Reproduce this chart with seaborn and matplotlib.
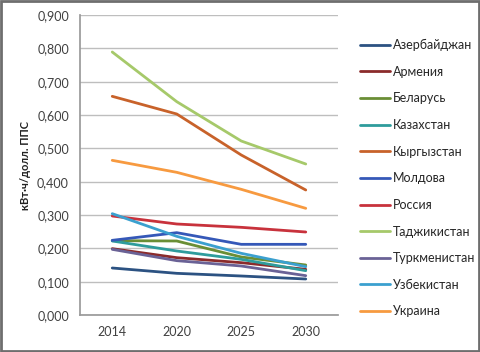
import matplotlib
matplotlib.use("Agg")
import matplotlib.pyplot as plt
import matplotlib.ticker as mticker
import seaborn as sns
import pandas as pd
from matplotlib.patches import Rectangle

years = ["2014", "2020", "2025", "2030"]
countries = ["Азербайджан", "Армения", "Беларусь", "Казахстан", "Кыргызстан",
             "Молдова", "Россия", "Таджикистан", "Туркменистан", "Узбекистан", "Украина"]
azerbaijan = [0.141, 0.125, 0.117, 0.108]
armenia = [0.199, 0.172, 0.157, 0.137]
belarus = [0.223, 0.222, 0.174, 0.150]
kazakhstan = [0.222, 0.192, 0.167, 0.133]
kyrgyzstan = [0.656, 0.603, 0.480, 0.375]
moldova = [0.224, 0.247, 0.212, 0.212]
russia = [0.297, 0.273, 0.263, 0.249]
tajikistan = [0.789, 0.640, 0.522, 0.453]
turkmenistan = [0.197, 0.163, 0.147, 0.118]
uzbekistan = [0.304, 0.236, 0.185, 0.145]
ukraine = [0.464, 0.428, 0.377, 0.320]
colors = ["#2C5282", "#8B2B2B", "#6A8E35", "#2E9C9C", "#C8622A", "#3558B8",
          "#C8323C", "#A6C96A", "#6A6296", "#3BA0CF", "#F79A40"]

series = [azerbaijan, armenia, belarus, kazakhstan, kyrgyzstan, moldova,
          russia, tajikistan, turkmenistan, uzbekistan, ukraine]
rows = []
for c, vals in zip(countries, series):
    for y, v in zip(years, vals):
        rows.append({"year": y, "value": v, "country": c})
df = pd.DataFrame(rows)

sns.set_theme(style="white")
plt.rcParams['font.family'] = ['Lato', 'DejaVu Sans']

fig = plt.figure(figsize=(4.8, 3.52), dpi=100)
ax = fig.add_axes([80/480, 1 - 315/352, 258/480, 300/352])
sns.lineplot(data=df, x="year", y="value", hue="country", hue_order=countries,
             palette=colors, linewidth=2, sort=False, ax=ax, legend=True)

ax.set_xlim(-0.5, 3.5)
ax.set_ylim(0, 0.9)
ax.yaxis.set_major_locator(mticker.MultipleLocator(0.1))
ax.yaxis.set_major_formatter(mticker.FuncFormatter(lambda v, p: f"{v:.3f}".replace(".", ",")))
ax.grid(axis="y", color="#BEBEBE", linewidth=1)
ax.set_axisbelow(True)
for s in ["top", "right"]:
    ax.spines[s].set_visible(False)
ax.spines["left"].set_color("#9A9A9A")
ax.spines["bottom"].set_color("#9A9A9A")
ax.tick_params(axis="both", labelsize=9, colors="#404040", length=0, pad=8)
ax.set_xlabel("")
ax.set_ylabel("кВт·ч/долл. ППС", fontsize=8, fontweight="bold", color="#222222", labelpad=4)

handles, labels = ax.get_legend_handles_labels()
ax.legend(handles, labels, loc="upper left", bbox_to_anchor=(355/480, 1 - 34/352),
          bbox_transform=fig.transFigure, frameon=False, fontsize=9,
          handlelength=2.4, handletextpad=0.2, labelspacing=1.17, borderaxespad=0)

fig.patches.append(Rectangle((0.002, 0.003), 0.996, 0.994, transform=fig.transFigure,
                             fill=False, edgecolor="#6E6E6E", linewidth=2))
fig.savefig("out.png", dpi=100)
